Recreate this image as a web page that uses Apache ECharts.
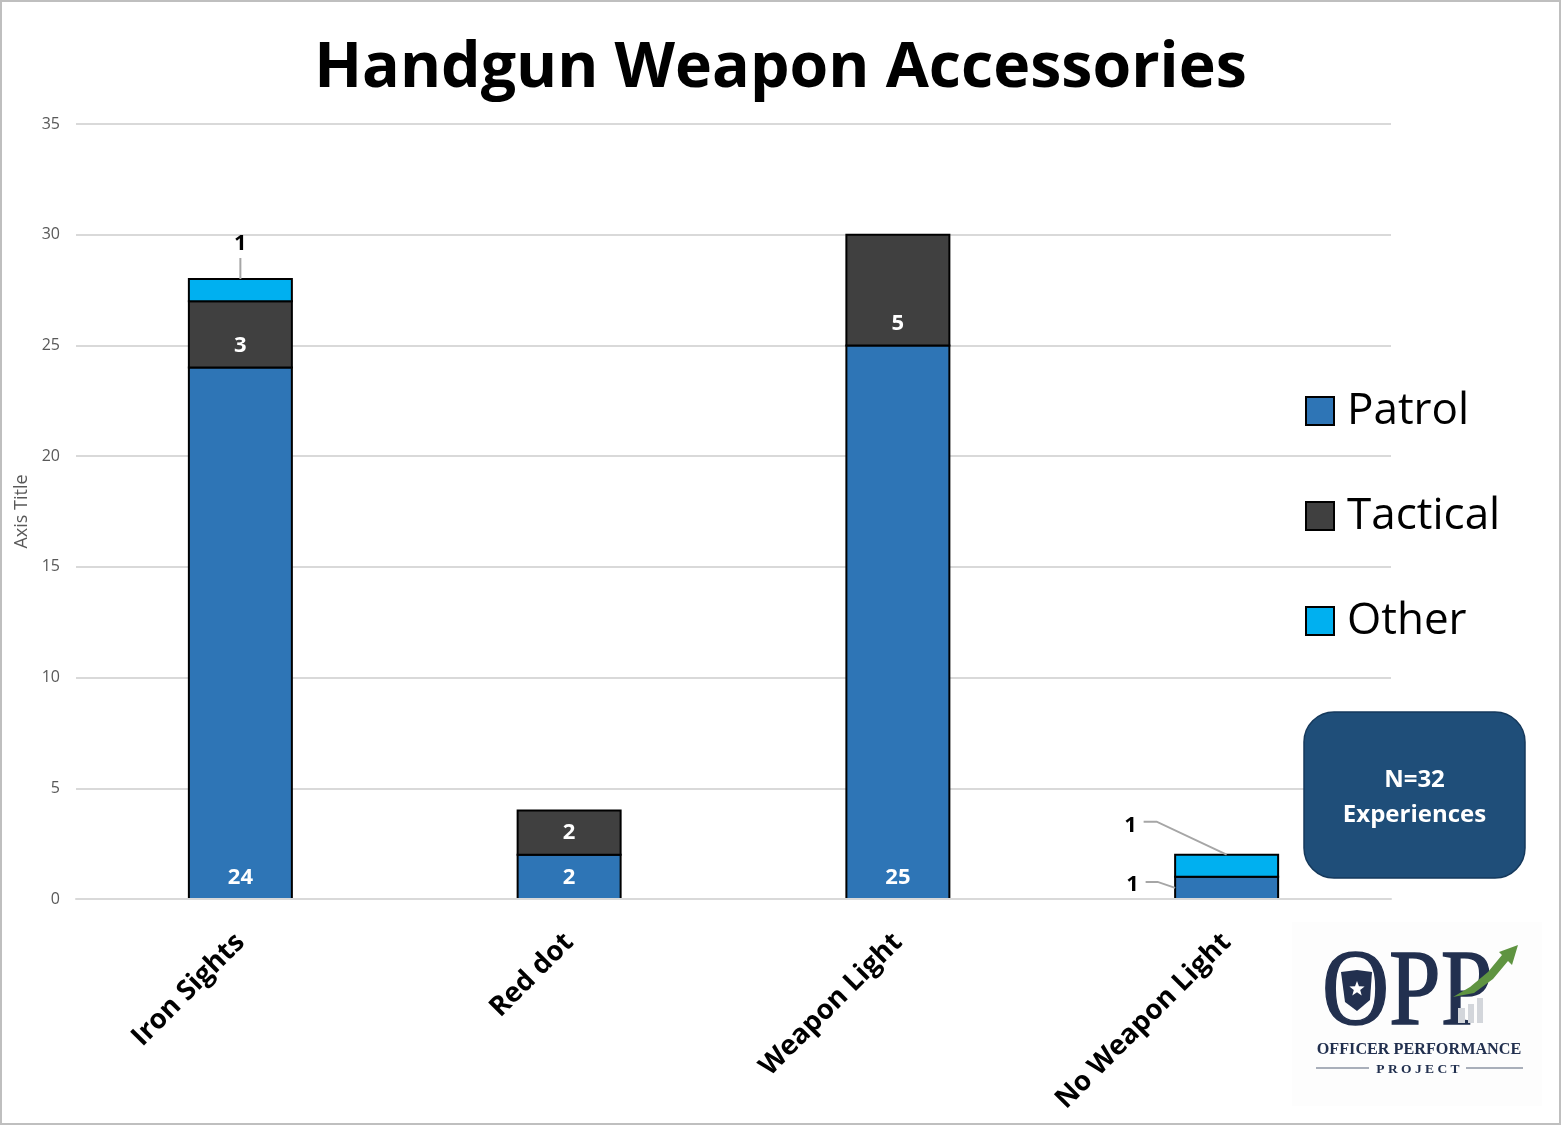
<!DOCTYPE html>
<html><head><meta charset="utf-8">
<style>html,body{margin:0;padding:0;background:#fff}#c{width:1561px;height:1125px}</style>
<script src="https://cdn.jsdelivr.net/npm/echarts@6/dist/echarts.min.js"></script>
</head><body><div id="c"></div>
<script>
const categories = ['Iron Sights', 'Red dot', 'Weapon Light', 'No Weapon Light'];
const patrol = [24, 2, 25, 1];
const tactical = [3, 2, 5, null];
const other = [1, null, null, 1];
const yTicks = {min: 0, max: 35, interval: 5};
const chartTitle = 'Handgun Weapon Accessories';
const FONT = '"Open Sans", sans-serif';

const chart = echarts.init(document.getElementById('c'), null, {renderer: 'canvas'});
const BAR_W = 103;

// Stack the series: each row is [category, base, top, value].
const stacks = [patrol, tactical, other];
function rows(idx) {
  return stacks[idx].map((v, i) => {
    if (v === null) return null;
    let base = 0;
    for (let k = 0; k < idx; k++) base += stacks[k][i] || 0;
    return [i, base, base + v, v];
  }).filter(Boolean);
}
function barSeries(name, idx, color, labelColor, labelStyleFor) {
  return {
    name, type: 'custom', data: rows(idx), encode: {x: 0, y: [1, 2]}, itemStyle: {color},
    renderItem(params, api) {
      const i = api.value(0);
      const p0 = api.coord([i, api.value(1)]);
      const p1 = api.coord([i, api.value(2)]);
      const o = labelStyleFor ? labelStyleFor(i) : {};
      return {
        type: 'rect',
        shape: {x: p0[0] - BAR_W / 2, y: p1[1], width: BAR_W, height: p0[1] - p1[1]},
        style: {fill: color, stroke: '#000', lineWidth: 2},
        textContent: {type: 'text', style: {text: String(api.value(3)), fill: o.color || labelColor, font: '700 22px ' + FONT}},
        textConfig: {position: 'insideBottom', distance: 11.5, offset: o.offset || [0, 0], inside: true}
      };
    }
  };
}
const star = (cx, cy, r) => {
  const p = [];
  for (let i = 0; i < 10; i++) {
    const a = -Math.PI / 2 + i * Math.PI / 5, q = i % 2 ? r * 0.42 : r;
    p.push([cx + q * Math.cos(a), cy + q * Math.sin(a)]);
  }
  return p;
};
const navy = '#22304f';
const staticGraphics = [
  {type: 'rect', silent: true, shape: {x: 1, y: 1, width: 1559, height: 1123}, style: {fill: 'none', stroke: '#bfbfbf', lineWidth: 2}},
  {type: 'rect', silent: true, z: 10, shape: {x: 1304, y: 712, width: 221, height: 166, r: 30}, style: {fill: '#1F4E79', stroke: '#15395c', lineWidth: 1.5}},
  {type: 'text', silent: true, z: 11, x: 1414.5, y: 798, style: {text: 'N=32\nExperiences', fill: '#fff', font: '700 24px ' + FONT, lineHeight: 35, align: 'center', verticalAlign: 'middle'}},
  {type: 'rect', silent: true, shape: {x: 1292, y: 922, width: 250, height: 184}, style: {fill: '#fdfdfd'}},
  {type: 'text', silent: true, z: 1, x: 1322, y: 996, scaleX: 0.86, style: {text: 'OPP', fill: navy, stroke: navy, lineWidth: 1.5, font: '108px "Liberation Serif", serif', verticalAlign: 'middle', align: 'left'}},
  {type: 'polygon', silent: true, z: 2, shape: {points: [[1341, 972], [1357, 970], [1372, 972], [1370, 1000], [1357, 1011], [1345, 1002]]}, style: {fill: navy}},
  {type: 'polygon', silent: true, z: 3, shape: {points: star(1357, 989, 8)}, style: {fill: '#fff'}},
  {type: 'rect', silent: true, z: 2, shape: {x: 1458, y: 1008, width: 7, height: 15}, style: {fill: '#d3d6db'}},
  {type: 'rect', silent: true, z: 2, shape: {x: 1468, y: 1004, width: 6, height: 19}, style: {fill: '#d3d6db'}},
  {type: 'rect', silent: true, z: 2, shape: {x: 1477, y: 998, width: 6, height: 25}, style: {fill: '#d3d6db'}},
  {type: 'polygon', silent: true, z: 3, shape: {points: [[1453, 997], [1470, 987], [1488, 972], [1502, 955], [1499, 952], [1518, 945], [1512, 965], [1508, 961], [1493, 979], [1474, 993]]}, style: {fill: '#5f9441'}},
  {type: 'text', silent: true, z: 2, x: 1419, y: 1050, style: {text: 'OFFICER PERFORMANCE', fill: navy, font: 'bold 16.2px "Liberation Serif", serif', align: 'center', verticalAlign: 'middle'}},
  {type: 'text', silent: true, z: 2, x: 1418, y: 1070, style: {text: 'P R O J E C T', fill: navy, font: 'bold 13.5px "Liberation Serif", serif', align: 'center', verticalAlign: 'middle'}},
  {type: 'line', silent: true, z: 2, shape: {x1: 1316, y1: 1068, x2: 1369, y2: 1068}, style: {stroke: '#8d94a3', lineWidth: 1.5}},
  {type: 'line', silent: true, z: 2, shape: {x1: 1466, y1: 1068, x2: 1523, y2: 1068}, style: {stroke: '#8d94a3', lineWidth: 1.5}}
];
chart.setOption({
  animation: false,
  backgroundColor: '#fff',
  title: {text: chartTitle, left: 'center', top: 33, textStyle: {fontFamily: FONT, fontSize: 62.6, fontWeight: 700, color: '#000'}},
  grid: {left: 76, right: 170, top: 124, bottom: 226, containLabel: false},
  legend: {orient: 'vertical', left: 1300, top: 384, itemWidth: 28, itemHeight: 28, itemGap: 61, icon: 'rect',
    data: ['Patrol', 'Tactical', 'Other'], itemStyle: {borderColor: '#000', borderWidth: 2},
    textStyle: {fontFamily: FONT, fontSize: 44, color: '#000', padding: [0, 0, 0, 8]}},
  xAxis: {type: 'category', data: categories, z: 5,
    axisLine: {lineStyle: {color: '#d9d9d9', width: 2}}, axisTick: {show: false},
    axisLabel: {rotate: 45, interval: 0, margin: 39, padding: [4, 0, 0, 0], color: '#000', fontFamily: FONT, fontSize: 27.5, fontWeight: 700}},
  yAxis: {type: 'value', min: yTicks.min, max: yTicks.max, interval: yTicks.interval,
    name: 'Axis Title', nameLocation: 'middle', nameGap: 43, nameRotate: 90,
    nameTextStyle: {color: '#595959', fontFamily: FONT, fontSize: 18},
    axisLine: {show: false}, axisTick: {show: false},
    splitLine: {lineStyle: {color: '#d9d9d9', width: 2}},
    axisLabel: {color: '#595959', fontFamily: FONT, fontSize: 16, margin: 16}},
  series: [
    barSeries('Patrol', 0, '#2E75B6', '#fff', (i) => i === 3 ? {color: '#000', offset: [-94, 7]} : {}),
    barSeries('Tactical', 1, '#404040', '#fff'),
    barSeries('Other', 2, '#00B0F0', '#000', (i) => i === 0 ? {offset: [0, -36]} : {offset: [-96, -30]})
  ],
  graphic: {elements: staticGraphics}
});

// Leader lines anchored on the bars through the chart's own scales.
const px = (i, v) => chart.convertToPixel({gridIndex: 0}, [i, v]);
const stackTop = (i) => patrol[i] + (tactical[i] || 0) + (other[i] || 0);
const topIron = px(0, stackTop(0));
const topNoLight = px(3, stackTop(3));
const midNoLight = px(3, patrol[3] / 2);
const leaderStyle = {fill: 'none', stroke: '#a6a6a6', lineWidth: 2};
const leaders = [
  [[topIron[0], topIron[1] - 21], topIron],
  [[topNoLight[0] - 83, topNoLight[1] - 33], [topNoLight[0] - 70, topNoLight[1] - 33], topNoLight],
  [[midNoLight[0] - 81, midNoLight[1] - 6], [midNoLight[0] - 69, midNoLight[1] - 6], [midNoLight[0] - BAR_W / 2, midNoLight[1]]]
];
chart.setOption({graphic: {elements: staticGraphics.concat(leaders.map((points) => ({
  type: 'polyline', silent: true, z: 20, shape: {points}, style: leaderStyle
})))}});
</script></body></html>
